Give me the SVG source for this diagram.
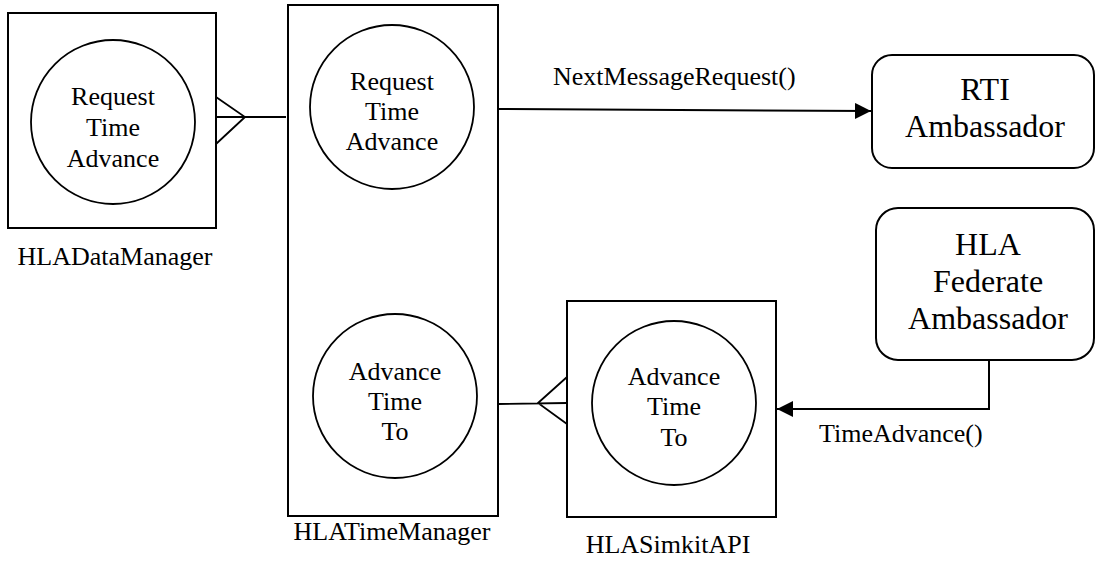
<svg xmlns="http://www.w3.org/2000/svg" width="1096" height="562" viewBox="0 0 1096 562">
<defs>
<style>
.box{fill:#fff;stroke:#000;stroke-width:2}
.circ{fill:#fff;stroke:#000;stroke-width:1.8}
.t{font-family:"Liberation Serif","Times New Roman",serif;font-size:26px;fill:#000;text-anchor:middle}
.lbl{font-family:"Liberation Serif","Times New Roman",serif;font-size:26px;fill:#000}
.big{font-size:32px}
.ln{fill:none;stroke:#000;stroke-width:2}
.cf{fill:none;stroke:#000;stroke-width:1.8}
</style>
<marker id="arr" markerWidth="16" markerHeight="16" viewBox="0 0 16 16" refX="16" refY="8" orient="auto" markerUnits="userSpaceOnUse">
<path d="M0,0 L16,8 L0,16 Z" fill="#000"/>
</marker>
</defs>
<rect width="1096" height="562" fill="#fff"/>

<g id="HLADataManager">
<rect class="box" x="8" y="13" width="208" height="215"/>
<circle class="circ" cx="113" cy="122" r="82"/>
<text class="t" x="113" y="105">Request</text>
<text class="t" x="113" y="136">Time</text>
<text class="t" x="113" y="167">Advance</text>
<text class="t" x="115" y="265">HLADataManager</text>
</g>

<g id="HLATimeManager">
<rect class="box" x="288" y="5" width="210" height="511"/>
<circle class="circ" cx="392" cy="107" r="82"/>
<text class="t" x="392" y="90">Request</text>
<text class="t" x="392" y="120">Time</text>
<text class="t" x="392" y="150">Advance</text>
<circle class="circ" cx="395" cy="396" r="82"/>
<text class="t" x="395" y="380">Advance</text>
<text class="t" x="395" y="410">Time</text>
<text class="t" x="395" y="440">To</text>
<text class="t" x="392" y="540">HLATimeManager</text>
</g>

<g id="HLASimkitAPI">
<rect class="box" x="567" y="301" width="209" height="216"/>
<circle class="circ" cx="674" cy="403" r="82"/>
<text class="t" x="674" y="385">Advance</text>
<text class="t" x="674" y="415">Time</text>
<text class="t" x="674" y="446">To</text>
<text class="t" x="668" y="553">HLASimkitAPI</text>
</g>

<g id="RTIAmbassador">
<rect class="box" x="872" y="55" width="222" height="113" rx="20" ry="20"/>
<text class="t big" x="985" y="100">RTI</text>
<text class="t big" x="985" y="137">Ambassador</text>
</g>

<g id="HLAFederateAmbassador">
<rect class="box" x="876" y="208" width="218" height="152" rx="22" ry="22"/>
<text class="t big" x="988" y="255">HLA</text>
<text class="t big" x="988" y="292">Federate</text>
<text class="t big" x="988" y="329">Ambassador</text>
</g>

<g id="connectors">
<path class="cf" d="M216,117 L286,117 M216,97 L245,117 L216,144"/>
<path class="cf" d="M498,404 L567,403 M567,377 L538,403 L567,424"/>
<line class="ln" x1="498" y1="109" x2="871" y2="111" marker-end="url(#arr)"/>
<path class="ln" d="M989,360 L989,409 L777,409" marker-end="url(#arr)"/>
<text class="lbl" x="553" y="85">NextMessageRequest()</text>
<text class="lbl" x="819" y="442">TimeAdvance()</text>
</g>
</svg>
